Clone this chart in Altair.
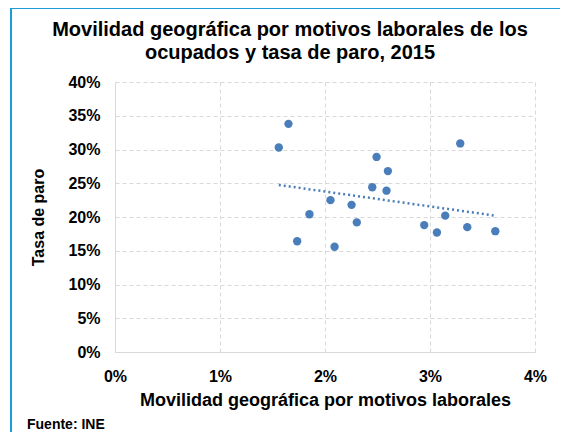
import altair as alt
import pandas as pd

movilidad = [0.01652, 0.01560, 0.01735, 0.01852, 0.02052, 0.02091, 0.02253, 0.02303, 0.02450,
             0.02491, 0.02586, 0.02599, 0.02945, 0.03066, 0.03145, 0.03288, 0.03355, 0.03622]
paro = [0.338, 0.303, 0.164, 0.204, 0.225, 0.156, 0.218, 0.192, 0.244,
        0.289, 0.239, 0.268, 0.188, 0.177, 0.202, 0.309, 0.185, 0.179]

title_lines = ["Movilidad geográfica por motivos laborales de los",
               "ocupados y tasa de paro, 2015"]
x_ticks = [0, 0.01, 0.02, 0.03, 0.04]
y_ticks = [0, 0.05, 0.1, 0.15, 0.2, 0.25, 0.3, 0.35, 0.4]

df = pd.DataFrame({"mov": movilidad, "paro": paro})
one = pd.DataFrame({"k": [0]})

FONT = "Liberation Sans"
BLUE = "#4a7ebb"

xenc = alt.X("mov:Q", scale=alt.Scale(domain=[0, 0.04], nice=False),
             axis=alt.Axis(values=x_ticks, format=".0%",
                           title="Movilidad geográfica por motivos laborales",
                           titleFont=FONT, titleFontSize=18, titleFontWeight="bold",
                           titleColor="black", titlePadding=7,
                           labelFont=FONT, labelFontSize=16, labelFontWeight="bold",
                           labelColor="black", labelPadding=16, tickSize=0,
                           labelOverlap=False,
                           domainColor="#d9d9d9", gridColor="#d9d9d9",
                           gridDash=[4, 3], labelFlush=False))
yenc = alt.Y("paro:Q", scale=alt.Scale(domain=[0, 0.4], nice=False),
             axis=alt.Axis(values=y_ticks, format=".0%",
                           title="Tasa de paro",
                           titleFont=FONT, titleFontSize=16, titleFontWeight="bold",
                           titleColor="black", titlePadding=21,
                           labelFont=FONT, labelFontSize=16, labelFontWeight="bold",
                           labelColor="black", labelPadding=15, tickSize=0,
                           labelOverlap=False,
                           domainColor="#d9d9d9", gridColor="#d9d9d9",
                           gridDash=[4, 3], labelFlush=False))

points = alt.Chart(df).mark_circle(size=70, color=BLUE, opacity=1).encode(x=xenc, y=yenc)

trend = alt.Chart(df).transform_regression("mov", "paro").mark_line(
    color=BLUE, strokeDash=[2, 3], strokeWidth=2.5).encode(x=xenc, y=yenc)

def label(text, x, y, size, align="center"):
    return alt.Chart(one).mark_text(text=text, font=FONT, fontSize=size, fontWeight="bold",
                                    align=align, baseline="middle", color="black").encode(
        x=alt.value(x), y=alt.value(y))

title1 = label(title_lines[0], 175, -52, 20)
title2 = label(title_lines[1], 175, -29, 20)
fuente = label("Fuente: INE", -88, 343, 14, align="left")

border_left = alt.Chart(one).mark_rule(color="#1f9bd7", strokeWidth=2).encode(
    x=alt.value(-104), y=alt.value(-74), y2=alt.value(355))
border_top = alt.Chart(one).mark_rule(color="#1f9bd7", strokeWidth=2).encode(
    x=alt.value(-104), x2=alt.value(460), y=alt.value(-74))

chart = alt.layer(border_left, border_top, trend, points, title1, title2, fuente).properties(
    width=420, height=270,
    autosize=alt.AutoSizeParams(type="none"),
    padding={"left": 107, "top": 74, "right": 25, "bottom": 80},
).configure_view(stroke=None)

chart.save("out.html", embed_options={"renderer": "svg", "actions": False})
